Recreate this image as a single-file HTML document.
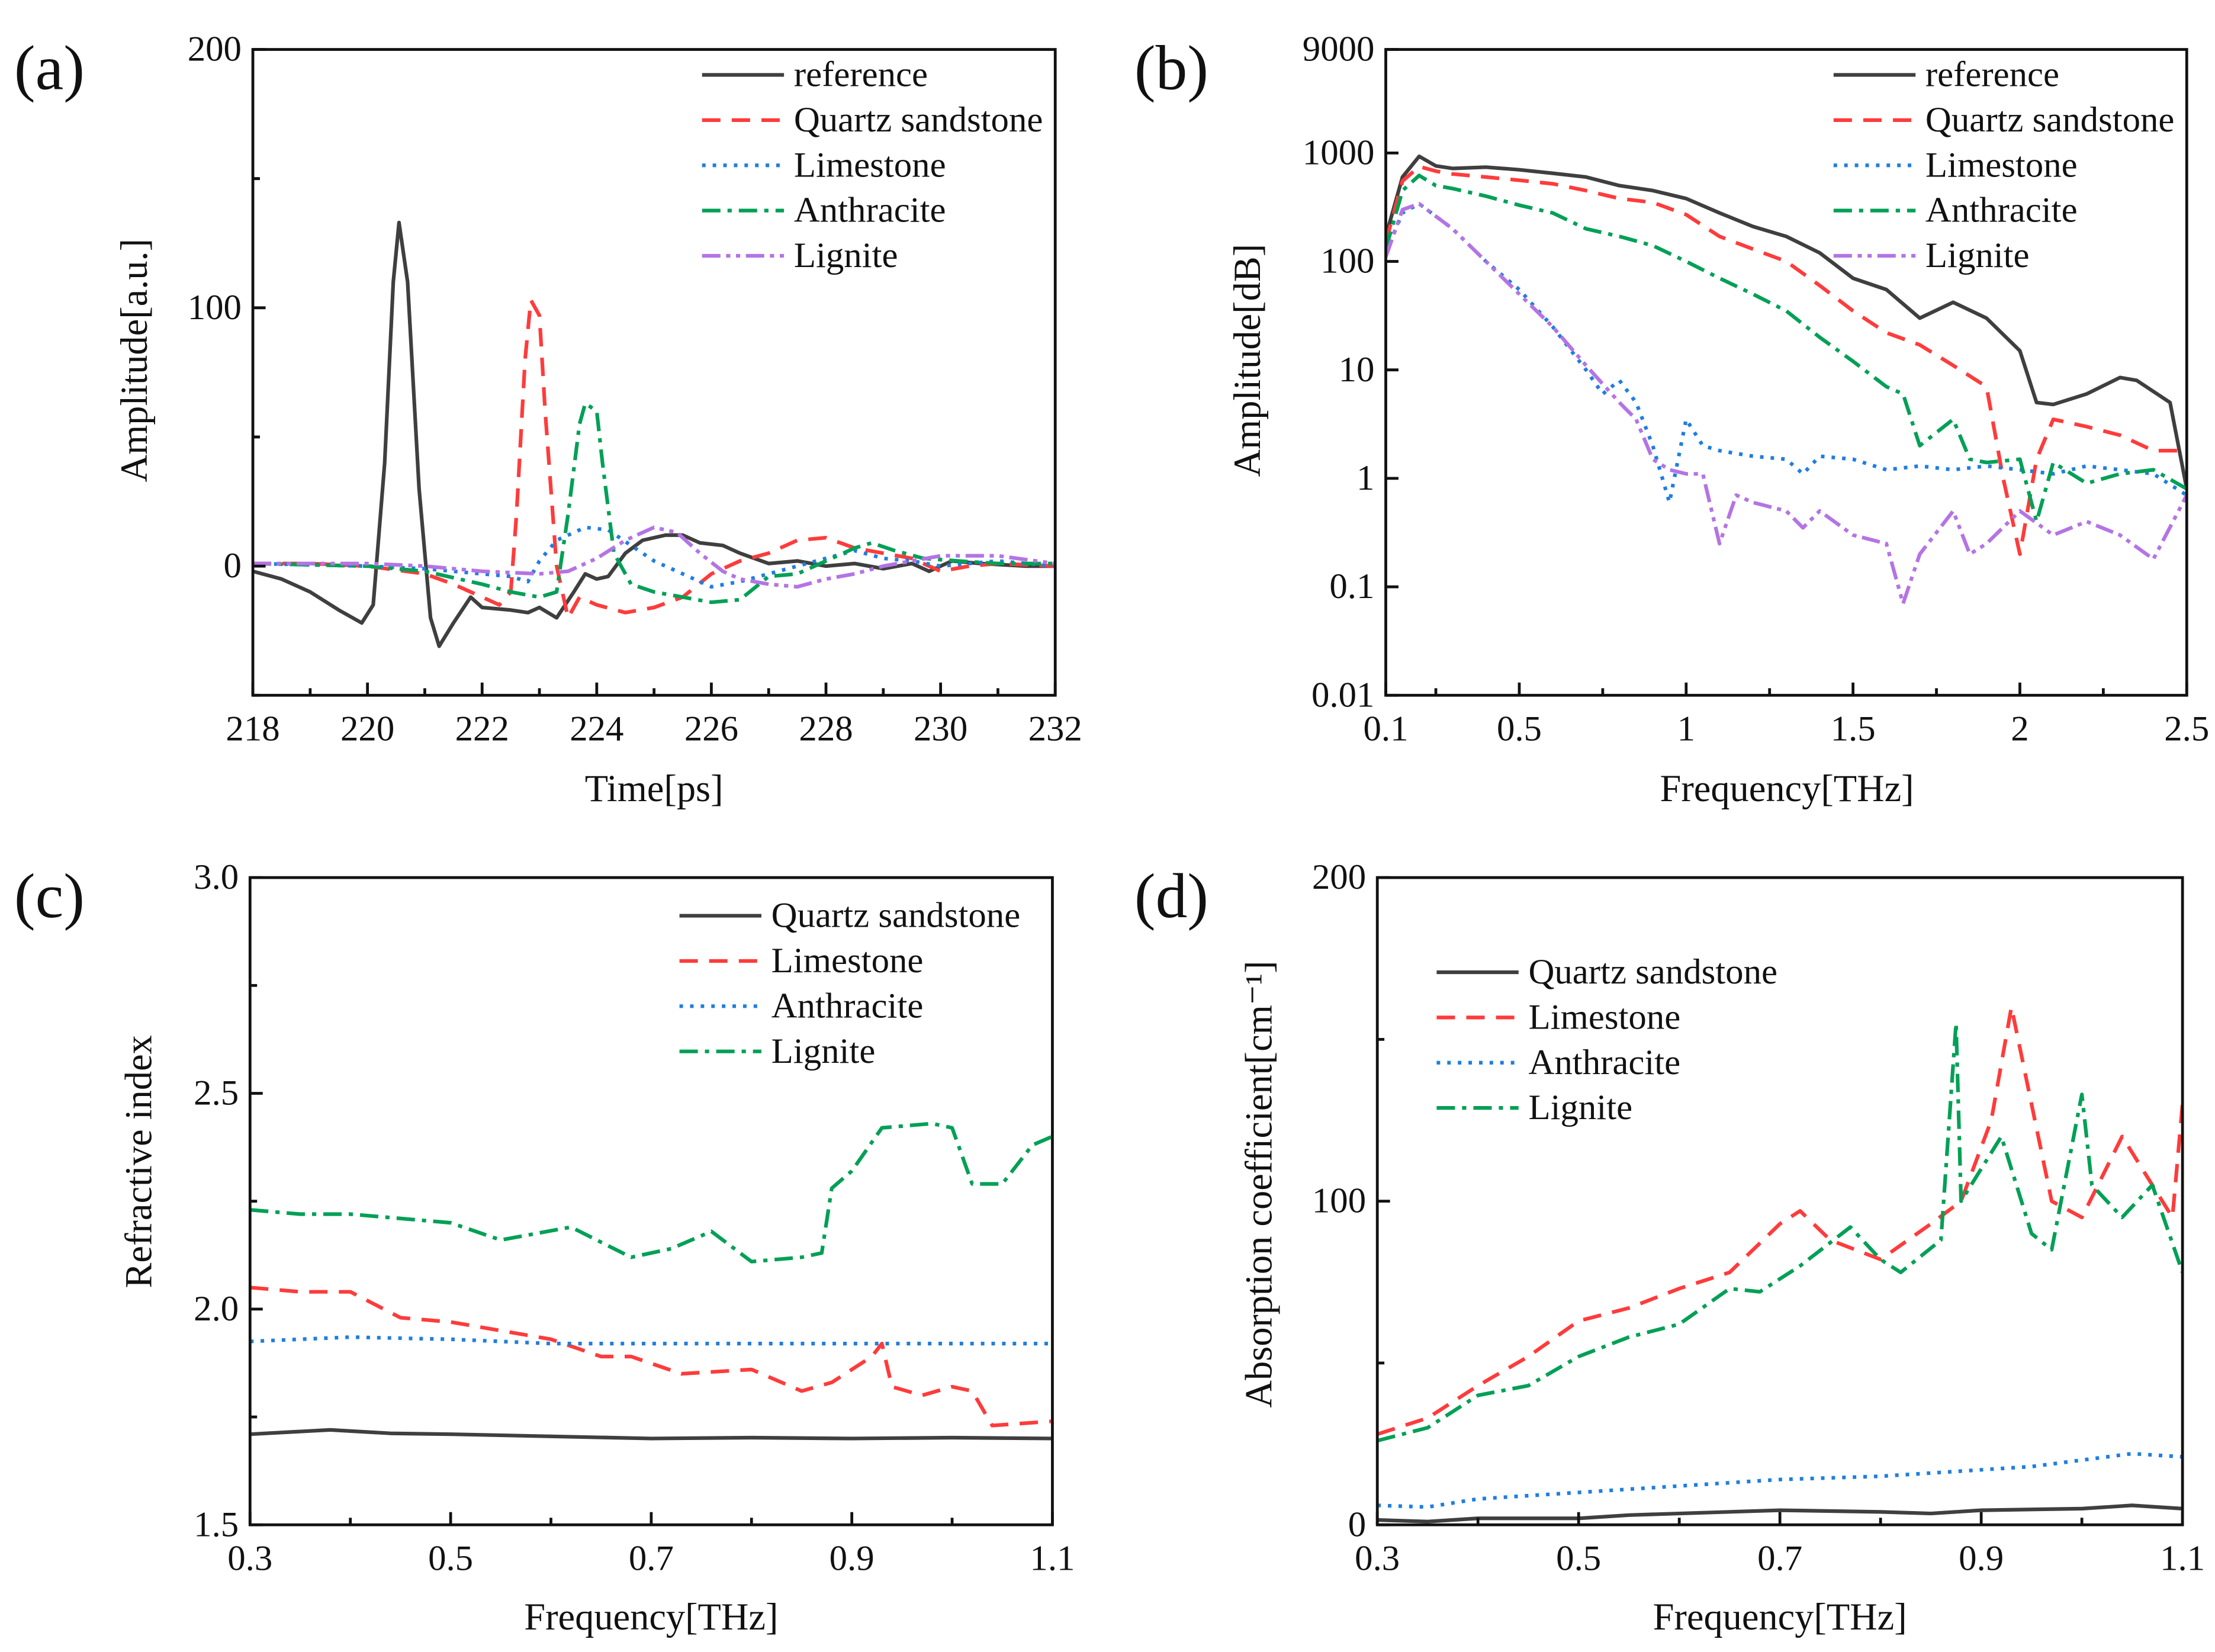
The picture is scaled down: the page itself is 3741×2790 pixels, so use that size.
<!DOCTYPE html>
<html><head><meta charset="utf-8"><style>
html,body{margin:0;padding:0;background:#fff}
svg{display:block}
text{font-family:"Liberation Serif",serif;fill:#111}
</style></head><body>
<svg id="fig" xmlns="http://www.w3.org/2000/svg" width="3741" height="2790" viewBox="0 0 1568 1169" preserveAspectRatio="none">
<rect x="0" y="0" width="1568" height="1169" fill="#fff"/>
</svg>
<script>
// ---------- Panel (a) data ----------
const aRefT=[218,218.5,219,219.5,219.9,220.1,220.3,220.45,220.55,220.7,220.9,221.1,221.25,221.5,221.8,222,222.5,222.8,223,223.3,223.6,223.8,224,224.2,224.5,224.8,225.2,225.5,225.8,226.2,226.5,227,227.5,228,228.5,229,229.5,229.8,230.2,230.7,231.5,232];
const aRefV=[-2,-5,-10,-17,-22,-15,40,110,133,110,30,-20,-31,-22,-12,-16,-17,-18,-16,-20,-10,-3,-5,-4,5,10,12,12,9,8,5,1,2,0,1,-1,1,-2,2,1,0,0];
const aQzT=[218,219,220,221,221.5,222,222.3,222.5,222.6,222.75,222.85,223,223.1,223.3,223.5,223.7,224,224.5,225,225.5,226,226.5,227,227.5,228,228.5,229,229.5,230,230.5,231,232];
const aQzV=[1,1,0,-3,-7,-12,-15,-10,20,80,103,97,60,0,-20,-12,-15,-18,-16,-12,-3,2,5,10,11,7,5,3,-2,0,1,0];
const aLmT=[218,220,221,222,222.5,222.8,223,223.3,223.8,224.2,224.6,225,225.5,226,226.5,227,228,228.5,229,229.5,230,231,232];
const aLmV=[1,0,-1,-3,-4,-6,2,10,15,14,8,2,-3,-8,-6,-3,3,6,3,2,0,2,0];
const aAnT=[218,220,221,222,222.5,223,223.3,223.5,223.7,223.8,224,224.1,224.3,224.6,225,225.5,226,226.5,227,227.5,228,228.5,228.8,229.2,229.7,230.3,231,232];
const aAnV=[1,0,-2,-7,-10,-12,-10,20,55,63,60,40,5,-7,-10,-12,-14,-13,-4,-3,2,7,9,6,3,2,1,1];
const aLgT=[218,219,220,221,222,223,223.5,224,224.5,225,225.4,225.8,226.2,226.5,227,227.5,228,228.5,229,229.5,230,231,232];
const aLgV=[1,1,1,0,-2,-3,-2,3,10,15,13,5,-2,-5,-7,-8,-5,-3,0,2,4,4,1];
const aXTicks=[218,220,222,224,226,228,230,232];
const aYTicks=[0,100,200];
// ---------- Panel (b) data ----------
const bRefF=[0.1,0.15,0.2,0.25,0.3,0.4,0.5,0.6,0.7,0.8,0.9,1.0,1.1,1.2,1.3,1.4,1.5,1.6,1.7,1.8,1.9,2.0,2.05,2.1,2.2,2.3,2.35,2.45,2.5];
const bRefV=[170,600,930,760,720,740,700,650,600,500,450,380,280,210,170,120,70,55,30,42,30,15,5,4.8,6,8.5,8,5,0.8];
const bQzF=[0.1,0.15,0.2,0.25,0.3,0.4,0.5,0.6,0.7,0.8,0.9,1.0,1.1,1.2,1.3,1.4,1.5,1.6,1.7,1.8,1.9,1.95,2.0,2.05,2.1,2.2,2.3,2.4,2.5];
const bQzV=[150,550,750,680,640,600,560,520,450,380,350,270,170,130,100,60,35,22,17,11,7,1,0.2,1.5,3.5,3,2.5,1.8,1.8];
const bLmF=[0.1,0.15,0.2,0.3,0.4,0.5,0.6,0.7,0.75,0.8,0.85,0.9,0.95,1.0,1.05,1.1,1.2,1.3,1.35,1.4,1.5,1.6,1.7,1.8,1.9,2.0,2.1,2.2,2.3,2.4,2.5];
const bLmV=[120,280,340,200,100,55,25,10,6,8,5,2,0.6,3.5,2,1.8,1.6,1.5,1.1,1.6,1.5,1.2,1.3,1.2,1.3,1.2,1.1,1.3,1.2,1.1,0.7];
const bAnF=[0.1,0.15,0.2,0.25,0.3,0.4,0.5,0.6,0.7,0.8,0.9,1.0,1.1,1.2,1.3,1.4,1.5,1.6,1.65,1.7,1.8,1.85,1.9,2.0,2.05,2.1,2.2,2.3,2.4,2.5];
const bAnV=[130,450,620,500,470,400,330,280,200,170,140,100,70,50,35,20,12,7,6,2,3.5,1.5,1.4,1.5,0.4,1.4,0.9,1.1,1.2,0.8];
const bLgF=[0.1,0.15,0.2,0.3,0.4,0.5,0.6,0.7,0.8,0.85,0.9,0.95,1.0,1.05,1.1,1.15,1.2,1.3,1.35,1.4,1.5,1.6,1.65,1.7,1.8,1.85,1.9,2.0,2.1,2.2,2.3,2.4,2.5];
const bLgV=[110,300,340,200,100,50,25,11,5,3.5,1.5,1.2,1.1,1.1,0.25,0.7,0.6,0.5,0.35,0.5,0.3,0.25,0.07,0.2,0.5,0.2,0.25,0.5,0.3,0.4,0.3,0.18,0.7];
const bXTicks=[0.1,0.5,1,1.5,2,2.5];
const bXLabels=["0.1","0.5","1","1.5","2","2.5"];
const bYTicks=[0.01,0.1,1,10,100,1000,9000];
const bYLabels=["0.01","0.1","1","10","100","1000","9000"];
// ---------- Panel (c) data ----------
const cQzF=[0.3,0.34,0.38,0.44,0.5,0.6,0.7,0.8,0.9,1.0,1.1];
const cQzV=[1.71,1.715,1.72,1.712,1.71,1.705,1.70,1.702,1.70,1.702,1.70];
const cLmF=[0.3,0.35,0.4,0.45,0.5,0.55,0.6,0.65,0.68,0.73,0.8,0.85,0.88,0.92,0.93,0.94,0.97,1.0,1.02,1.04,1.1];
const cLmV=[2.05,2.04,2.04,1.98,1.97,1.95,1.93,1.89,1.89,1.85,1.86,1.81,1.83,1.89,1.92,1.82,1.80,1.82,1.81,1.73,1.74];
const cAnF=[0.3,0.4,0.5,0.6,0.8,1.1];
const cAnV=[1.925,1.935,1.93,1.92,1.92,1.92];
const cLgF=[0.3,0.35,0.4,0.5,0.55,0.62,0.68,0.72,0.76,0.8,0.85,0.87,0.88,0.9,0.93,0.98,1.0,1.02,1.05,1.08,1.1];
const cLgV=[2.23,2.22,2.22,2.20,2.16,2.19,2.12,2.14,2.18,2.11,2.12,2.13,2.28,2.32,2.42,2.43,2.42,2.29,2.29,2.38,2.40];
const cXTicks=[0.3,0.5,0.7,0.9,1.1];
const cYTicks=[1.5,2.0,2.5,3.0];
const cYLabels=["1.5","2.0","2.5","3.0"];
// ---------- Panel (d) data ----------
const dQzF=[0.3,0.35,0.4,0.5,0.55,0.6,0.7,0.8,0.85,0.9,1.0,1.05,1.1];
const dQzV=[1.5,1,2,2,3,3.5,4.5,4,3.5,4.5,5,6,5];
const dLmF=[0.3,0.35,0.4,0.45,0.5,0.55,0.6,0.65,0.7,0.72,0.75,0.8,0.85,0.88,0.91,0.93,0.95,0.97,1.0,1.04,1.07,1.09,1.1];
const dLmV=[28,33,43,52,63,67,73,78,93,97,88,82,93,100,125,160,130,100,95,120,105,95,130];
const dAnF=[0.3,0.35,0.4,0.5,0.6,0.7,0.8,0.9,0.95,1.0,1.05,1.1];
const dAnV=[6,5.5,8,10,12,14,15,17,18,20,22,21];
const dLgF=[0.3,0.35,0.4,0.45,0.5,0.55,0.6,0.65,0.68,0.72,0.77,0.8,0.82,0.86,0.875,0.88,0.92,0.95,0.97,1.0,1.01,1.04,1.07,1.1];
const dLgV=[26,30,40,43,52,58,62,73,72,80,92,82,78,88,155,100,120,90,85,133,105,95,105,78];
const dXTicks=[0.3,0.5,0.7,0.9,1.1];
const dYTicks=[0,100,200];

const NS="http://www.w3.org/2000/svg";
const svg=document.getElementById('fig');
const COL={ref:"#3f3f3f",red:"#ff3b3b",blue:"#1f7ee0",green:"#00a056",purple:"#b474e4"};
const DASH={solid:"",dash:"13 8",dot:"2.5 5",dashdot:"13 5 3 5",dashdotdot:"13 4 3 4 3 4"};
function mk(tag,attrs,parent){const e=document.createElementNS(NS,tag);for(const k in attrs)e.setAttribute(k,attrs[k]);(parent||svg).appendChild(e);return e;}
function txt(s,x,y,size,anchor,parent,rot){const t=mk('text',{x:x,y:y,'font-size':size,'text-anchor':anchor||'start'},parent);if(rot)t.setAttribute('transform','rotate(-90 '+x+' '+y+')');t.textContent=s;return t;}

function panel(o){
  const g=mk('g',{});
  
  
  const {x0,x1,y0,y1}=o;
  const sx=v=>x0+(v-o.xmin)/(o.xmax-o.xmin)*(x1-x0);
  const sy=o.log?(v=>y1-(Math.log10(v)-Math.log10(o.ymin))/(Math.log10(o.ymax)-Math.log10(o.ymin))*(y1-y0)):(v=>y1-(v-o.ymin)/(o.ymax-o.ymin)*(y1-y0));
  const cid='clip-'+o.id;
  const cp=mk('clipPath',{id:cid},g);mk('rect',{x:x0,y:y0,width:x1-x0,height:y1-y0},cp);
  o.series.forEach(s=>{
    let d='';s.x.forEach((v,i)=>{d+=(i?'L':'M')+sx(v).toFixed(2)+' '+sy(s.y[i]).toFixed(2);});
    const p=mk('path',{d:d,fill:'none',stroke:s.c,'stroke-width':2.6,'stroke-dasharray':DASH[s.dash],'stroke-linejoin':'round','clip-path':'url(#'+cid+')'},g);
    
    
  });
  const fr=mk('rect',{x:x0,y:y0,width:x1-x0,height:y1-y0,fill:'none',stroke:'#111','stroke-width':2},g);
  
  
  o.xt.forEach((v,i)=>{
    const X=sx(v);mk('line',{x1:X,x2:X,y1:y1,y2:y1-9,stroke:'#111','stroke-width':2},g);
    const t=txt(o.xl?o.xl[i]:String(v),X,y1+32,25.5,'middle',g);
    
    
    if(i<o.xt.length-1&&!o.log){const m=sx((v+o.xt[i+1])/2);mk('line',{x1:m,x2:m,y1:y1,y2:y1-5,stroke:'#111','stroke-width':2},g);}
  });
  if(o.xminor){o.xminor.forEach(v=>{const m=sx(v);mk('line',{x1:m,x2:m,y1:y1,y2:y1-5,stroke:'#111','stroke-width':2},g);});}
  o.yt.forEach((v,i)=>{
    const Y=sy(v);mk('line',{x1:x0,x2:x0+9,y1:Y,y2:Y,stroke:'#111','stroke-width':2},g);
    const t=txt(o.yl?o.yl[i]:String(v),x0-8,Y+8,25.5,'end',g);
    
    
    if(i<o.yt.length-1&&!o.log){const m=sy((v+o.yt[i+1])/2);mk('line',{x1:x0,x2:x0+5,y1:m,y2:m,stroke:'#111','stroke-width':2},g);}
  });
  if(o.yminor){o.yminor.forEach(v=>{const m=sy(v);mk('line',{x1:x0,x2:x0+5,y1:m,y2:m,stroke:'#111','stroke-width':2},g);});}
  const xt=txt(o.xtitle,o.xtx,o.xty,27,'middle',g);
  
  
  const yt=txt(o.ytitle,o.ytx,o.yty,27,'middle',g,true);
  
  
  const pl=txt(o.label,o.lx,o.ly,45,'start',g);
  
  
  o.series.forEach((s,i)=>{
    const Y=o.legY+i*32;
    const lg=mk('g',{},g);
    
    
    mk('line',{x1:o.legX,x2:o.legX+58,y1:Y,y2:Y,stroke:s.c,'stroke-width':2.6,'stroke-dasharray':DASH[s.dash]},lg);
    txt(s.name,o.legX+65,Y+8,25.5,'start',lg);
  });
}

panel({id:'a',name:'panel-a-time-domain',x0:179,x1:747,y0:35,y1:492,xmin:218,xmax:232,ymin:-50,ymax:200,
  xt:aXTicks,yt:aYTicks,yminor:[50,150,-50],xtitle:'Time[ps]',xtx:463,xty:567,ytitle:'Amplitude[a.u.]',ytx:104,yty:255,
  label:'(a)',lx:10,ly:63,legX:497,legY:53,series:[
  {key:'reference',name:'reference',x:aRefT,y:aRefV,c:COL.ref,dash:'solid'},
  {key:'quartz-sandstone',name:'Quartz sandstone',x:aQzT,y:aQzV,c:COL.red,dash:'dash'},
  {key:'limestone',name:'Limestone',x:aLmT,y:aLmV,c:COL.blue,dash:'dot'},
  {key:'anthracite',name:'Anthracite',x:aAnT,y:aAnV,c:COL.green,dash:'dashdot'},
  {key:'lignite',name:'Lignite',x:aLgT,y:aLgV,c:COL.purple,dash:'dashdotdot'}]});

panel({id:'b',name:'panel-b-spectrum',x0:981,x1:1548,y0:35,y1:492,xmin:0.1,xmax:2.5,ymin:0.01,ymax:9000,log:true,
  xt:bXTicks,xl:bXLabels,xminor:[0.25,0.75,1.25,1.75,2.25],yt:bYTicks,yl:bYLabels,xtitle:'Frequency[THz]',xtx:1265,xty:567,ytitle:'Amplitude[dB]',ytx:892,yty:255,
  label:'(b)',lx:803,ly:63,legX:1298,legY:53,series:[
  {key:'reference',name:'reference',x:bRefF,y:bRefV,c:COL.ref,dash:'solid'},
  {key:'quartz-sandstone',name:'Quartz sandstone',x:bQzF,y:bQzV,c:COL.red,dash:'dash'},
  {key:'limestone',name:'Limestone',x:bLmF,y:bLmV,c:COL.blue,dash:'dot'},
  {key:'anthracite',name:'Anthracite',x:bAnF,y:bAnV,c:COL.green,dash:'dashdot'},
  {key:'lignite',name:'Lignite',x:bLgF,y:bLgV,c:COL.purple,dash:'dashdotdot'}]});

panel({id:'c',name:'panel-c-refractive-index',x0:177,x1:745,y0:621,y1:1079,xmin:0.3,xmax:1.1,ymin:1.5,ymax:3.0,
  xt:cXTicks,yt:cYTicks,yl:cYLabels,xtitle:'Frequency[THz]',xtx:461,xty:1153,ytitle:'Refractive index',ytx:107,yty:822,
  label:'(c)',lx:10,ly:649,legX:481,legY:648,series:[
  {key:'quartz-sandstone',name:'Quartz sandstone',x:cQzF,y:cQzV,c:COL.ref,dash:'solid'},
  {key:'limestone',name:'Limestone',x:cLmF,y:cLmV,c:COL.red,dash:'dash'},
  {key:'anthracite',name:'Anthracite',x:cAnF,y:cAnV,c:COL.blue,dash:'dot'},
  {key:'lignite',name:'Lignite',x:cLgF,y:cLgV,c:COL.green,dash:'dashdot'}]});

panel({id:'d',name:'panel-d-absorption',x0:975,x1:1545,y0:621,y1:1079,xmin:0.3,xmax:1.1,ymin:0,ymax:200,
  xt:dXTicks,yt:dYTicks,xtitle:'Frequency[THz]',xtx:1260,xty:1153,ytitle:'Absorption coefficient[cm\u207B\u00B9]',ytx:900,yty:838,
  label:'(d)',lx:803,ly:649,legX:1017,legY:688,series:[
  {key:'quartz-sandstone',name:'Quartz sandstone',x:dQzF,y:dQzV,c:COL.ref,dash:'solid'},
  {key:'limestone',name:'Limestone',x:dLmF,y:dLmV,c:COL.red,dash:'dash'},
  {key:'anthracite',name:'Anthracite',x:dAnF,y:dAnV,c:COL.blue,dash:'dot'},
  {key:'lignite',name:'Lignite',x:dLgF,y:dLgV,c:COL.green,dash:'dashdot'}]});
</script>
</body></html>
